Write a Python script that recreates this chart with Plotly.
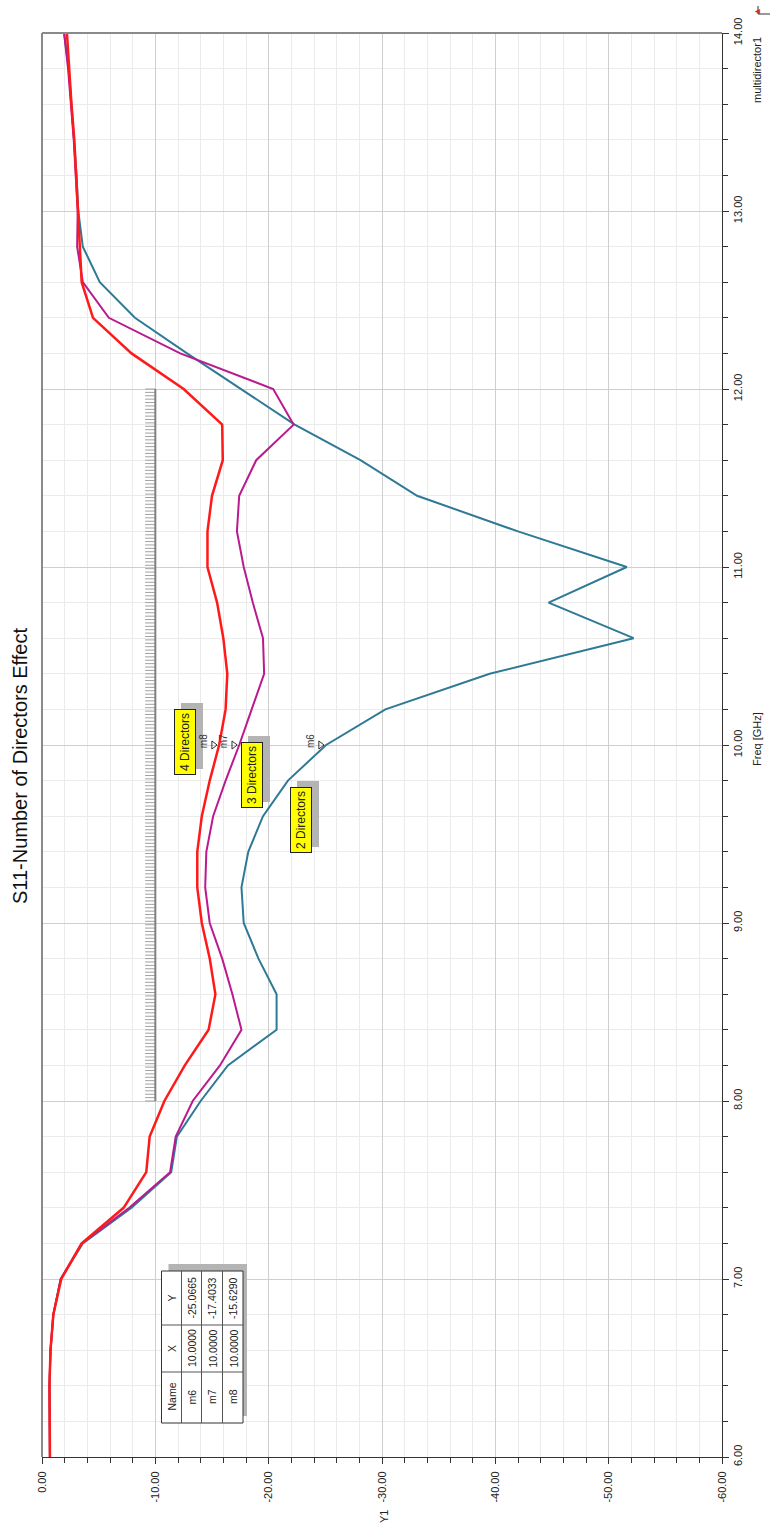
import plotly.graph_objects as go

# ---- data -------------------------------------------------------------
freq_ghz = [6.0, 6.2, 6.4, 6.6, 6.8, 7.0, 7.2, 7.4, 7.6, 7.8,
            8.0, 8.2, 8.4, 8.6, 8.8, 9.0, 9.2, 9.4, 9.6, 9.8,
            10.0, 10.2, 10.4, 10.6, 10.8, 11.0, 11.2, 11.4, 11.6, 11.8,
            12.0, 12.2, 12.4, 12.6, 12.8, 13.0, 13.2, 13.4, 13.6, 13.8, 14.0]

s11_2_directors = [-0.70, -0.68, -0.66, -0.75, -1.00, -1.65, -3.60, -7.90, -11.4, -11.9,
                   -14.0, -16.4, -20.7, -20.7, -19.1, -17.8, -17.6, -18.2, -19.5, -21.7,
                   -25.0665, -30.3, -39.5, -52.2, -44.7, -51.6, -42.0, -33.1, -28.1, -22.3,
                   -17.5, -12.8, -8.2, -5.1, -3.6, -3.2, -3.05, -2.85, -2.6, -2.35, -1.95]

s11_3_directors = [-0.70, -0.68, -0.66, -0.75, -1.00, -1.65, -3.50, -7.70, -11.3, -11.8,
                   -13.3, -15.7, -17.6, -16.8, -15.9, -14.8, -14.4, -14.5, -15.1, -16.2,
                   -17.4033, -18.5, -19.6, -19.5, -18.6, -17.8, -17.2, -17.4, -18.9, -22.2,
                   -20.4, -12.2, -5.9, -3.6, -3.1, -3.15, -3.0, -2.8, -2.55, -2.3, -1.95]

s11_4_directors = [-0.70, -0.68, -0.66, -0.75, -1.00, -1.70, -3.50, -7.20, -9.2, -9.5,
                   -10.8, -12.6, -14.7, -15.3, -14.8, -14.1, -13.7, -13.7, -14.1, -14.8,
                   -15.6290, -16.2, -16.35, -16.0, -15.45, -14.6, -14.6, -15.0, -15.95, -15.9,
                   -12.5, -7.9, -4.5, -3.5, -3.35, -3.2, -3.05, -2.85, -2.6, -2.4, -2.2]

marker_names = ["m6", "m7", "m8"]
marker_x = ["10.0000", "10.0000", "10.0000"]
marker_freq = [10.0, 10.0, 10.0]
marker_db = [-25.0665, -17.4033, -15.6290]

db_ticks = [0, -10, -20, -30, -40, -50, -60]
db_ticktext = ["0.00", "-10.00", "-20.00", "-30.00", "-40.00", "-50.00", "-60.00"]
freq_ticks = [6, 7, 8, 9, 10, 11, 12, 13, 14]
freq_ticktext = ["6.00", "7.00", "8.00", "9.00", "10.00", "11.00", "12.00", "13.00", "14.00"]

# ---- page geometry (pixels) ------------------------------------------
W, H = 771, 1526
L, R, T, B = 42, 722, 33, 1457
PX_PER_DB = (R - L) / 60.0


def px(x):
    return (x - L) / (R - L)


def py(y):
    return (B - y) / (B - T)


FONT = "Liberation Sans, Arial, sans-serif"
TEAL = "#2E7A96"
MAGENTA = "#BA1A8E"
RED = "#FF1A1A"


def label(cx, cy, text, size, color="#222", **kw):
    """Vertical text centred on a pixel position."""
    d = dict(x=px(cx), y=py(cy), xref="paper", yref="paper", text=text,
             showarrow=False, textangle=-90, xanchor="center", yanchor="middle",
             font=dict(family=FONT, size=size, color=color))
    d.update(kw)
    return d


fig = go.Figure()

# ruler bar with comb ticks between 8 and 12 GHz
rx, ry = [], []
n_comb = 210
for i in range(n_comb + 1):
    f = 8.0 + 4.0 * i / n_comb
    rx += [-9.1, -10.0, None]
    ry += [f, f, None]
fig.add_trace(go.Scatter(x=rx, y=ry, mode="lines",
                         line=dict(color="#a0a0a0", width=1), hoverinfo="skip"))
fig.add_trace(go.Scatter(x=[-10.0, -10.0], y=[8.0, 12.0], mode="lines",
                         line=dict(color="#808080", width=2), hoverinfo="skip"))

# S11 curves
fig.add_trace(go.Scatter(x=s11_2_directors, y=freq_ghz, mode="lines", name="2 Directors",
                         line=dict(color=TEAL, width=2)))
fig.add_trace(go.Scatter(x=s11_3_directors, y=freq_ghz, mode="lines", name="3 Directors",
                         line=dict(color=MAGENTA, width=2)))
fig.add_trace(go.Scatter(x=s11_4_directors, y=freq_ghz, mode="lines", name="4 Directors",
                         line=dict(color=RED, width=2.5)))

# marker triangles, tip resting on the curve
tri_offset_db = 5.5 / PX_PER_DB
fig.add_trace(go.Scatter(x=[v + tri_offset_db for v in marker_db], y=marker_freq,
                         mode="markers",
                         marker=dict(symbol="triangle-right-open", size=7,
                                     color="#333", line=dict(color="#333", width=1)),
                         hoverinfo="skip"))

annotations = []

# yellow curve labels with drop shadow
labels = [("4 Directors", 185, 742), ("3 Directors", 251.5, 775.5), ("2 Directors", 300.5, 820.5)]
for text, cx, cy in labels:
    annotations.append(label(cx + 7, cy - 6, text, 12, color="rgba(0,0,0,0)",
                             bgcolor="#b4b4b4", borderpad=3, borderwidth=1,
                             bordercolor="#b4b4b4"))
    annotations.append(label(cx, cy, text, 12, color="#222",
                             bgcolor="#FFFF00", borderpad=3, borderwidth=1,
                             bordercolor="#222"))

# marker names beside the triangles
for name, f, v in zip(marker_names, marker_freq, marker_db):
    annotations.append(dict(x=v, y=f, xref="x", yref="y", text=name, showarrow=False,
                            textangle=-90, xshift=-16, yshift=4,
                            xanchor="center", yanchor="middle",
                            font=dict(family=FONT, size=10, color="#333")))

# titles
annotations += [
    label(20, 766, "S11-Number of Directors Effect", 20, color="#111"),
    label(757, 739, "Freq [GHz]", 11),
    label(384, 1517, "Y1", 11),
    label(757, 70, "multidirector1", 11),
    label(757, 12, "▲", 9, color="#c0392b"),
]

# marker table
tbl_l, tbl_r, tbl_t, tbl_b = 161.5, 243, 1271, 1423
col_x = [171.5, 191.5, 212, 233]
row_y = {"name": 1397, "x": 1348.5, "y": 1298}
table_rows = [("Name", "X", "Y")] + [(n, xv, f"{v:.4f}") for n, xv, v in zip(marker_names, marker_x, marker_db)]
for cx, (c_name, c_x, c_y) in zip(col_x, table_rows):
    for key, txt in (("name", c_name), ("x", c_x), ("y", c_y)):
        annotations.append(label(cx, row_y[key], txt, 10.5))

shapes = [
    # frame: left and top edges
    dict(type="line", xref="paper", yref="paper", x0=0, x1=0, y0=0, y1=1,
         line=dict(color="#8a8a8a", width=2)),
    dict(type="line", xref="paper", yref="paper", x0=0, x1=1, y0=1, y1=1,
         line=dict(color="#8a8a8a", width=2)),
    # table shadow and body
    dict(type="rect", xref="paper", yref="paper", x0=px(tbl_l + 7), x1=px(tbl_r + 4),
         y0=py(tbl_b - 7), y1=py(tbl_t - 7), fillcolor="#b4b4b4", line=dict(width=0)),
    dict(type="rect", xref="paper", yref="paper", x0=px(tbl_l), x1=px(tbl_r),
         y0=py(tbl_b), y1=py(tbl_t), fillcolor="white", line=dict(color="#333", width=1)),
    # corner glyph
    dict(type="path", xref="paper", yref="paper",
         path=f"M {px(758)} {py(6)} L {px(758)} {py(14)} L {px(770)} {py(14)}",
         line=dict(color="#333", width=1)),
]
for xv in (181.5, 201.5, 222.5):
    shapes.append(dict(type="line", xref="paper", yref="paper", x0=px(xv), x1=px(xv),
                       y0=py(tbl_b), y1=py(tbl_t), line=dict(color="#555", width=1)))
for yv in (1325, 1372):
    shapes.append(dict(type="line", xref="paper", yref="paper", x0=px(tbl_l), x1=px(tbl_r),
                       y0=py(yv), y1=py(yv), line=dict(color="#555", width=1)))

axis_common = dict(ticks="outside", ticklen=6, tickcolor="#333", tickwidth=1,
                   showline=True, linecolor="#333", linewidth=1, zeroline=False,
                   showgrid=True, gridcolor="#cfcfcf", gridwidth=1, tickangle=-90,
                   tickfont=dict(family=FONT, size=11, color="#222"))

fig.update_layout(
    width=W, height=H,
    margin=dict(l=L, r=W - R, t=T, b=H - B),
    paper_bgcolor="white", plot_bgcolor="white",
    showlegend=False,
    font=dict(family=FONT, size=11, color="#222"),
    xaxis=dict(range=[0, -60], tickvals=db_ticks, ticktext=db_ticktext,
               ticklabelstandoff=3,
               minor=dict(dtick=2, tick0=0, ticks="outside", ticklen=5, tickcolor="#333",
                          showgrid=True, gridcolor="#ebebeb", gridwidth=1),
               **axis_common),
    yaxis=dict(range=[6, 14], side="right", tickvals=freq_ticks, ticktext=freq_ticktext,
               minor=dict(dtick=0.2, tick0=6, ticks="outside", ticklen=5, tickcolor="#333",
                          showgrid=True, gridcolor="#ebebeb", gridwidth=1),
               **axis_common),
    annotations=annotations,
    shapes=shapes,
)

fig.write_html("out.html")
